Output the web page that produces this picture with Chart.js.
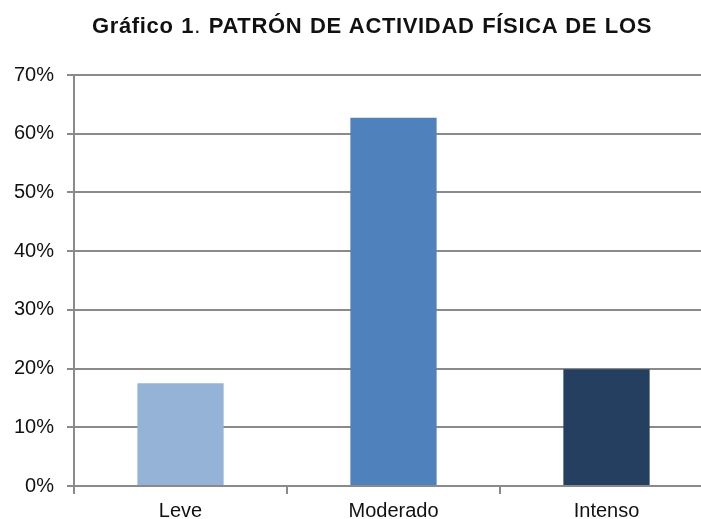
<!DOCTYPE html>
<html><head><meta charset="utf-8">
<script src="https://cdn.jsdelivr.net/npm/chart.js@4"></script>
<style>
html,body{margin:0;padding:0;background:#fff;overflow:hidden;width:701px;height:519px;}
#title{position:absolute;left:92px;top:13px;text-align:left;font-family:"Liberation Sans",Arial,sans-serif;font-size:22px;font-weight:bold;letter-spacing:0.65px;word-spacing:1px;color:#111;white-space:nowrap;}
#title span{font-weight:normal;}
#wrap{position:absolute;left:0;top:0;width:715px;height:519px;}
</style></head><body>
<div id="wrap"><canvas id="c"></canvas></div>
<div id="title">Gráfico 1<span>.</span> PATRÓN DE ACTIVIDAD FÍSICA DE LOS</div>
<script>
const categories = ["Leve", "Moderado", "Intenso"];
const values = [17.5, 62.7, 19.9];
const barColors = ["#95B3D7", "#4F81BD", "#243F60"];
const yTicks = [0, 10, 20, 30, 40, 50, 60, 70];

const gridColor = "#8a8a8a";
new Chart(document.getElementById("c"), {
  type: "bar",
  data: { labels: categories, datasets: [{ data: values, backgroundColor: barColors, borderWidth: 0, categoryPercentage: 1, barPercentage: 0.405 }] },
  options: {
    responsive: true, maintainAspectRatio: false, animation: false,
    layout: { padding: { top: 75, right: 2, left: 0, bottom: 0 } },
    plugins: { legend: { display: false }, tooltip: { enabled: false }, title: { display: false } },
    scales: {
      x: {
        grid: { display: true, drawOnChartArea: false, drawTicks: true, tickLength: 8, color: gridColor, lineWidth: 2, offset: true },
        border: { display: true, color: gridColor, width: 2 },
        ticks: { color: "#111", font: { family: "Liberation Sans, Arial, sans-serif", size: 20 }, padding: 5 },
        afterFit: s => { s.height = 33; }
      },
      y: {
        min: 0, max: 70,
        afterBuildTicks: s => { s.ticks = yTicks.map(v => ({ value: v })); },
        grid: { color: gridColor, lineWidth: 2, tickLength: 7 },
        border: { display: true, color: gridColor, width: 2 },
        ticks: { color: "#111", font: { family: "Liberation Sans, Arial, sans-serif", size: 20 }, padding: 13, callback: v => v + "%" },
        afterFit: s => { s.width = 74; }
      }
    }
  }
});
</script>
</body></html>
